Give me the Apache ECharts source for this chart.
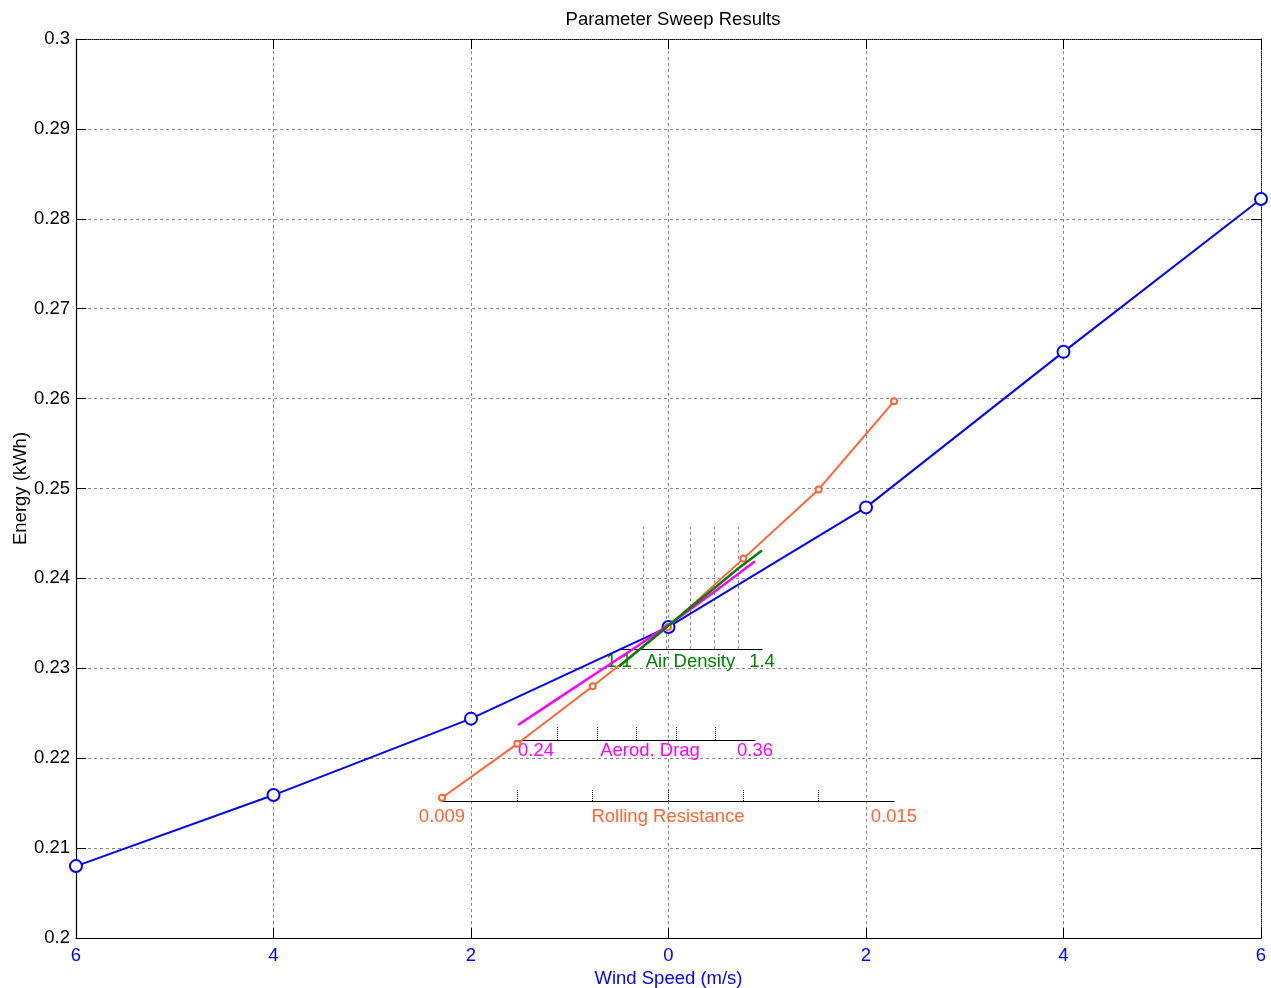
<!DOCTYPE html>
<html><head><meta charset="utf-8">
<script src="https://cdn.jsdelivr.net/npm/echarts@6/dist/echarts.min.js"></script>
<style>html,body{margin:0;padding:0;background:#fff}#c{width:1271px;height:988px}</style>
</head><body><div id="c"></div>
<script>
// ---- data ----
const windSpeed = [-6, -4, -2, 0, 2, 4, 6];
const energyWind = [0.2080, 0.2159, 0.2244, 0.2346, 0.2479, 0.2652, 0.2822];

const rollingResistance = [0.009, 0.010, 0.011, 0.012, 0.013, 0.014, 0.015];
const energyRolling = [0.2156, 0.2216, 0.2280, 0.2346, 0.2422, 0.2499, 0.2597];

const aeroDrag = [0.24, 0.26, 0.28, 0.30, 0.32, 0.34, 0.36];
const energyDrag = [0.2237, 0.2266, 0.2295, 0.2324, 0.2354, 0.2386, 0.2419];

const airDensity = [1.10, 1.15, 1.20, 1.25, 1.30, 1.35, 1.40];
const energyDensity = [0.2302, 0.2324, 0.2346, 0.2368, 0.2389, 0.2411, 0.2431];

// ---- ticks ----
const xTicks = [-6, -4, -2, 0, 2, 4, 6];
const yTicks = [0.20, 0.21, 0.22, 0.23, 0.24, 0.25, 0.26, 0.27, 0.28, 0.29, 0.30];
const rollingTicks = [0.010, 0.011, 0.012, 0.013, 0.014];
const rollingLabels = [0.009, 0.015];
const dragTicks = [0.26, 0.28, 0.30, 0.32, 0.34];
const dragLabels = [0.24, 0.36];
const densityTicks = [1.15, 1.20, 1.25, 1.30, 1.35];
const densityLabels = [1.1, 1.4];

const FONT = '"Liberation Sans", Arial, Helvetica, sans-serif';
const BLUE = '#0000ff', ORANGE = '#ff6633', MAGENTA = '#ff00ff', GREEN = '#008000';
const GRIDC = '#8a8a8a';
const FS = 18.5;

const pairs = (xs, ys) => xs.map((x, i) => [x, ys[i]]);
const fmtNum = v => String(parseFloat(Number(v).toFixed(4)));

const yMin = yTicks[0], yMax = yTicks[yTicks.length - 1];
const hiddenY = (gi) => ({
  type: 'value', gridIndex: gi, min: yMin, max: yMax, show: false
});

function miniX(gi, vals, ticks, labels, color, name, offset, tickLen, tickStyle, labelMargin, labelExtra, namePad) {
  return {
    type: 'value', gridIndex: gi, position: 'bottom', offset: offset,
    min: vals[0], max: vals[vals.length - 1],
    axisLine: { show: true, onZero: false, lineStyle: { color: '#000', width: 1.2 } },
    axisTick: { show: true, inside: true, length: tickLen, customValues: ticks, lineStyle: tickStyle },
    axisLabel: Object.assign({ show: true, customValues: labels, color: color, fontSize: FS, fontFamily: FONT,
                 margin: labelMargin, formatter: fmtNum }, labelExtra || {}),
    splitLine: { show: false },
    name: name, nameLocation: 'middle', nameGap: labelMargin, nameMoveOverlap: false,
    nameTextStyle: { color: color, fontSize: FS, fontFamily: FONT, padding: namePad || 0 }
  };
}

const gridBase = { top: 39, bottom: 50, containLabel: false, outerBoundsMode: 'none' };

const chart = echarts.init(document.getElementById('c'), null, { renderer: 'canvas' });
chart.setOption({
  animation: false,
  backgroundColor: '#fff',
  textStyle: { fontFamily: FONT },
  title: {
    text: 'Parameter Sweep Results', left: 668, top: 5, textAlign: 'center',
    textStyle: { fontSize: FS, fontWeight: 'normal', color: '#000', fontFamily: FONT }
  },
  grid: [
    Object.assign({ left: 76, right: 10 }, gridBase),
    Object.assign({ left: 442, width: 452 }, gridBase),
    Object.assign({ left: 518, width: 237 }, gridBase),
    Object.assign({ left: 619, width: 143 }, gridBase)
  ],
  xAxis: [
    {
      type: 'value', gridIndex: 0, position: 'bottom',
      min: xTicks[0], max: xTicks[xTicks.length - 1], interval: xTicks[1] - xTicks[0],
      axisLine: { show: true, onZero: false, lineStyle: { color: '#000', width: 1.2 } },
      axisTick: { show: true, inside: true, length: 10, lineStyle: { color: '#000' } },
      axisLabel: { color: BLUE, fontSize: FS, fontFamily: FONT, margin: 8,
                   formatter: v => String(Math.abs(v)) },
      splitLine: { show: true, lineStyle: { color: GRIDC, type: [3, 3], width: 1 } },
      name: 'Wind Speed (m/s)', nameLocation: 'middle', nameGap: 31, nameMoveOverlap: false,
      nameTextStyle: { color: BLUE, fontSize: FS, fontFamily: FONT }
    },
    {
      type: 'value', gridIndex: 0, position: 'top',
      min: xTicks[0], max: xTicks[xTicks.length - 1], interval: xTicks[1] - xTicks[0],
      axisLine: { show: true, onZero: false, lineStyle: { color: '#000', width: 1, type: [1, 1] } },
      axisTick: { show: true, inside: true, length: 10, lineStyle: { color: '#000' } },
      axisLabel: { show: false }, splitLine: { show: false }
    },
    miniX(1, rollingResistance, rollingTicks, rollingLabels, ORANGE, 'Rolling Resistance',
          -137, 12, { color: '#000', type: [1, 1], width: 1 }, 6),
    miniX(2, aeroDrag, dragTicks, dragLabels, MAGENTA, 'Aerod. Drag',
          -198, 13, { color: '#000', type: [1, 1], width: 1 }, 1,
          { alignMinLabel: 'left', padding: [0, 0, 0, 0] }, [0, 0, 0, 27]),
    miniX(3, airDensity, densityTicks, densityLabels, GREEN, 'Air Density',
          -289, 122, { color: GRIDC, type: [3, 3], width: 1 }, 3)
  ],
  yAxis: [
    {
      type: 'value', gridIndex: 0, position: 'left',
      min: yMin, max: yMax, interval: yTicks[1] - yTicks[0],
      axisLine: { show: true, onZero: false, lineStyle: { color: '#000', width: 1.2 } },
      axisTick: { show: true, inside: true, length: 10, lineStyle: { color: '#000' } },
      axisLabel: { color: '#000', fontSize: FS, fontFamily: FONT, margin: 6, formatter: fmtNum },
      splitLine: { show: true, lineStyle: { color: GRIDC, type: [3, 3], width: 1 } },
      name: 'Energy (kWh)', nameLocation: 'middle', nameGap: 46, nameMoveOverlap: false,
      nameTextStyle: { color: '#000', fontSize: FS, fontFamily: FONT }
    },
    {
      type: 'value', gridIndex: 0, position: 'right',
      min: yMin, max: yMax, interval: yTicks[1] - yTicks[0],
      axisLine: { show: true, onZero: false, lineStyle: { color: '#000', width: 1, type: [1, 1] } },
      axisTick: { show: true, inside: true, length: 10, lineStyle: { color: '#000' } },
      axisLabel: { show: false }, splitLine: { show: false }
    },
    hiddenY(1), hiddenY(2), hiddenY(3)
  ],
  series: [
    {
      type: 'line', xAxisIndex: 0, yAxisIndex: 0, data: pairs(windSpeed, energyWind),
      symbol: 'emptyCircle', symbolSize: 12, showAllSymbol: true,
      lineStyle: { color: BLUE, width: 2 },
      itemStyle: { color: BLUE, borderColor: BLUE, borderWidth: 1 },
      z: 3
    },
    {
      type: 'line', xAxisIndex: 2, yAxisIndex: 2, data: pairs(rollingResistance, energyRolling),
      symbol: 'emptyCircle', symbolSize: 6, showAllSymbol: true,
      lineStyle: { color: ORANGE, width: 2 },
      itemStyle: { color: ORANGE, borderColor: ORANGE, borderWidth: 1 },
      z: 4
    },
    {
      type: 'line', xAxisIndex: 3, yAxisIndex: 3, data: pairs(aeroDrag, energyDrag),
      symbol: 'none', lineStyle: { color: MAGENTA, width: 2.5 }, z: 5
    },
    {
      type: 'line', xAxisIndex: 4, yAxisIndex: 4, data: pairs(airDensity, energyDensity),
      symbol: 'none', lineStyle: { color: GREEN, width: 2.5 }, z: 6
    }
  ]
});
</script>
</body></html>
